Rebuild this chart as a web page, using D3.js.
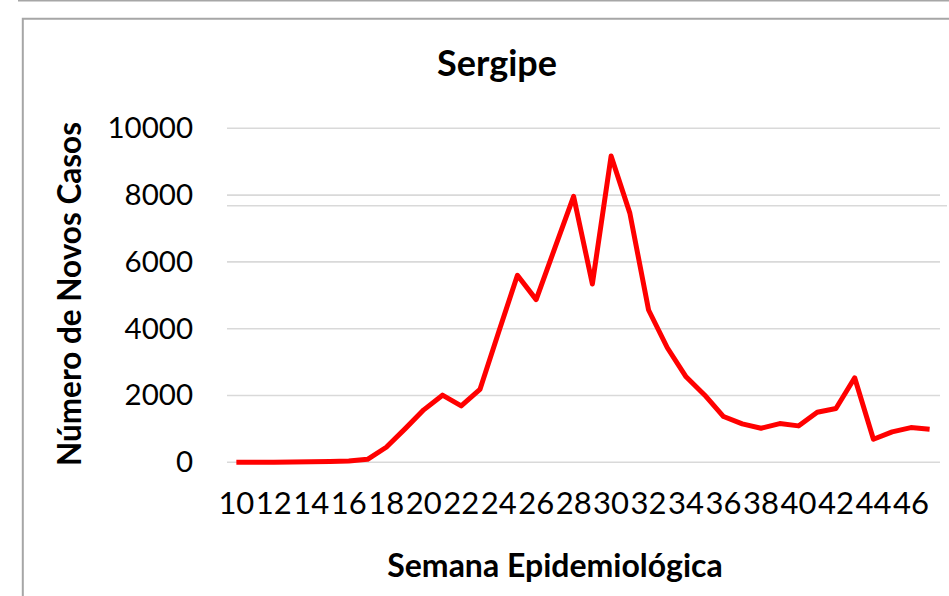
<!DOCTYPE html>
<html>
<head>
<meta charset="utf-8">
<script src="https://cdn.jsdelivr.net/npm/d3@7"></script>
<style>
  html, body { margin: 0; padding: 0; background: #fff; }
  svg { display: block; }
  text { font-family: Lato, "Open Sans", sans-serif; fill: #000; }
</style>
</head>
<body>
<svg id="chart" width="949" height="596"></svg>
<script>
// ---- Data ----
const weeks = [10,11,12,13,14,15,16,17,18,19,20,21,22,23,24,25,26,27,28,29,30,31,32,33,34,35,36,37,38,39,40,41,42,43,44,45,46,47];
const newCases = [0,2,5,10,15,25,40,90,450,1000,1570,2010,1690,2180,3900,5600,4870,6420,7960,5340,9170,7460,4560,3430,2560,2010,1370,1150,1020,1160,1090,1500,1610,2530,690,910,1040,990];
const xTickLabels = [10,12,14,16,18,20,22,24,26,28,30,32,34,36,38,40,42,44,46];
const yTickValues = [0,2000,4000,6000,8000,10000];
const chartTitle = "Sergipe";
const xTitle = "Semana Epidemiológica";
const yTitle = "Número de Novos Casos";

const svg = d3.select("#chart");

// frame decorations
svg.append("line").attr("x1", 18).attr("x2", 949).attr("y1", 0.5).attr("y2", 0.5)
  .attr("stroke", "#a6a6a6").attr("stroke-width", 2);
svg.append("path").attr("d", "M22.8,596 L22.8,18.8 L949,18.8")
  .attr("fill", "none").attr("stroke", "#a6a6a6").attr("stroke-width", 2);

const x = d3.scaleBand().domain(weeks).range([227, 939]).padding(0);
const cx = d => x(d) + x.bandwidth() / 2;
const y = d3.scaleLinear().domain([0, 10000]).range([462.3, 128.3]);

// gridlines
const grid = svg.append("g");
grid.selectAll("line").data(yTickValues).join("line")
  .attr("x1", 227).attr("x2", 940)
  .attr("y1", d => y(d)).attr("y2", d => y(d))
  .attr("stroke", "#d9d9d9").attr("stroke-width", 1.6);
// extra light line visible in the picture just below the 8000 gridline
svg.append("line").attr("x1", 227).attr("x2", 947)
  .attr("y1", y(8000) + 10.7).attr("y2", y(8000) + 10.7)
  .attr("stroke", "#d9d9d9").attr("stroke-width", 1.6);

// y axis labels
const yAxis = d3.axisLeft(y).tickValues(yTickValues).tickSize(0).tickPadding(0).tickFormat(d3.format("d"));
const gy = svg.append("g").attr("transform", "translate(193,0)").call(yAxis);
gy.select(".domain").remove();
gy.selectAll("text").style("font-family", "Lato, sans-serif").style("font-size", "29.5px").attr("fill", "#000");

// x axis labels
const xAxis = d3.axisBottom(x).tickValues(xTickLabels).tickSize(0).tickPadding(0);
const gx = svg.append("g").attr("transform", "translate(0,492)").call(xAxis);
gx.select(".domain").remove();
gx.selectAll("text").style("font-family", "Lato, sans-serif").style("font-size", "31px").attr("fill", "#000");

// line
const line = d3.line().x((d, i) => cx(weeks[i])).y(d => y(d));
svg.append("path").datum(newCases)
  .attr("d", line)
  .attr("fill", "none").attr("stroke", "#ff0000").attr("stroke-width", 5)
  .attr("stroke-linejoin", "round").attr("stroke-linecap", "butt");

// titles
svg.append("text").attr("x", 497).attr("y", 76).attr("text-anchor", "middle")
  .style("font-weight", "bold").style("font-size", "36px").text(chartTitle);
svg.append("text").attr("x", 555).attr("y", 577).attr("text-anchor", "middle")
  .style("font-weight", "bold").style("font-size", "32px").text(xTitle);
svg.append("text").attr("transform", "translate(81,294) rotate(-90)").attr("text-anchor", "middle")
  .style("font-weight", "bold").style("font-size", "31.5px").text(yTitle);
</script>
</body>
</html>
